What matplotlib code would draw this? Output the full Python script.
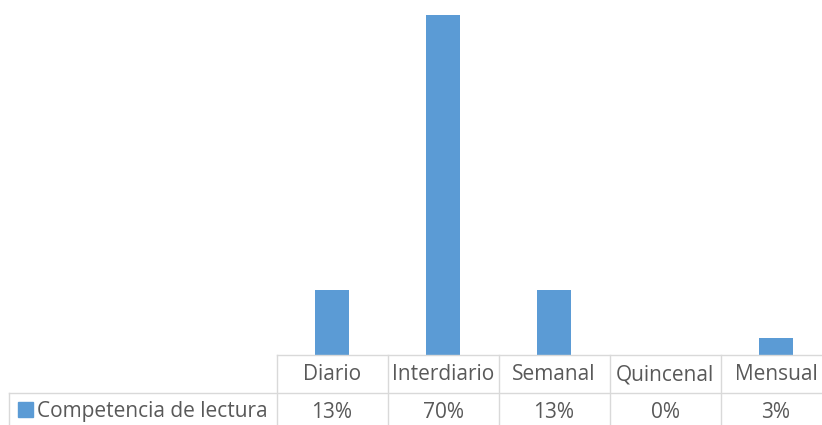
import matplotlib
matplotlib.use("Agg")
import matplotlib.pyplot as plt
from matplotlib.patches import Rectangle

categories = ["Diario", "Interdiario", "Semanal", "Quincenal", "Mensual"]
values = [4/30, 21/30, 4/30, 0.0, 1/30]
labels = ["13%", "70%", "13%", "0%", "3%"]
series_name = "Competencia de lectura"

plt.rcParams['font.family'] = ['Open Sans', 'DejaVu Sans']
W, H = 822, 425
fig = plt.figure(figsize=(W/100, H/100), dpi=100)

x0_px, x1_px = 276.5, 831.5
ybase_px, ytop_px = 354.5, 15
ax = fig.add_axes([x0_px/W, (H-ybase_px)/H, (x1_px-x0_px)/W, (ybase_px-ytop_px)/H])
bar_color = "#5b9bd5"
ax.bar(range(len(categories)), values, width=0.31, color=bar_color)
ax.set_xlim(-0.5, len(categories)-0.5)
ax.set_ylim(0, 0.70)
ax.axis('off')

grid = "#d9d9d9"
txt = "#595959"
def fy(px):
    return 1 - px/H
def fx(px):
    return px/W

row_mid_px = 393
bottom_px = 430
lines = []
lines.append(((x0_px, x1_px), (ybase_px, ybase_px)))
lines.append(((9, x1_px), (row_mid_px, row_mid_px)))
cw = (x1_px - x0_px)/len(categories)
for i in range(len(categories)+1):
    xx = x0_px + i*cw
    lines.append(((xx, xx), (ybase_px, bottom_px)))
lines.append(((9, 9), (row_mid_px, bottom_px)))
for xs, ys in lines:
    fig.add_artist(plt.Line2D([fx(xs[0]), fx(xs[1])], [fy(ys[0]), fy(ys[1])],
                              color=grid, lw=1.0, transform=fig.transFigure))

fs = 15
for i, (c, l) in enumerate(zip(categories, labels)):
    cx = x0_px + (i+0.5)*cw
    fig.text(fx(cx), fy(375), c, ha='center', va='center', fontsize=fs, color=txt)
    fig.text(fx(cx), fy(412), l, ha='center', va='center', fontsize=fs, color=txt)

fig.add_artist(Rectangle((fx(18), fy(417)), fx(15), (15)/H, color=bar_color,
                         transform=fig.transFigure))
fig.text(fx(37), fy(412), series_name, ha='left', va='center', fontsize=fs, color=txt)

fig.savefig("out.png", dpi=100)
